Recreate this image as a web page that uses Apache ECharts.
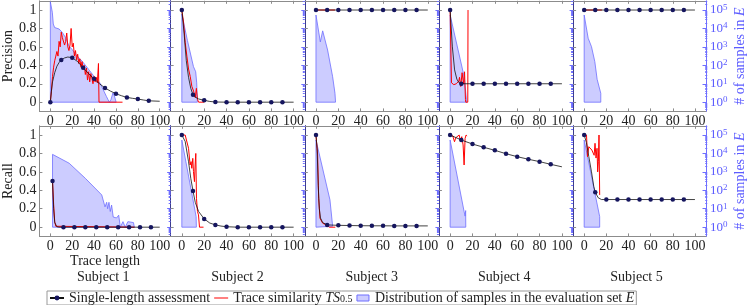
<!DOCTYPE html>
<html><head><meta charset="utf-8">
<script src="https://cdn.jsdelivr.net/npm/echarts@6/dist/echarts.min.js"></script>
<style>html,body{margin:0;padding:0;background:#fff}#c{width:748px;height:305px}</style>
</head><body><div id="c"></div>
<script>
const subjects = ['Subject 1','Subject 2','Subject 3','Subject 4','Subject 5'];
const metrics = ['Precision','Recall'];
const xTicks = [0,20,40,60,80,100];
const yTicks = [0,0.2,0.4,0.6,0.8,1];
const logTicks = [0,1,2,3,4,5];           // exponents: 10^0 ... 10^5
const marksStd = [0,10,20,30,40,50,60,70,80,90];
const marksR1 = [2,12,22,32,42,52,62,72,82,92];

// ---- Precision row: single-length assessment
const slP1 = [[0,0],[1,0.12],[2,0.22],[4,0.32],[6,0.39],[8,0.43],[10,0.457],[13,0.48],[16,0.49],[20,0.483],[25,0.44],[30,0.373],[35,0.31],[40,0.253],[45,0.2],[50,0.154],[55,0.12],[60,0.092],[65,0.07],[70,0.052],[75,0.042],[80,0.034],[85,0.024],[90,0.015],[100,0.01]];
const slP2 = [[0,1],[2,0.75],[4,0.45],[6,0.27],[8,0.15],[10,0.081],[12,0.055],[15,0.035],[20,0.02],[25,0.008],[30,0.002],[40,0],[50,0],[60,0],[70,0],[80,0],[90,0],[100,0]];
const slP3 = [[0,1],[10,1],[20,1],[30,1],[40,1],[50,1],[60,1],[70,1],[80,1],[90,1],[100,1]];
const slP4 = [[0,1],[2,0.6],[4,0.35],[6,0.25],[8,0.21],[10,0.2],[20,0.2],[30,0.2],[40,0.2],[50,0.2],[60,0.2],[70,0.2],[80,0.2],[90,0.2],[100,0.2]];
const slP5 = [[0,1],[10,1],[20,1],[30,1],[40,1],[50,1],[60,1],[70,1],[80,1],[90,1],[100,1]];
// ---- Precision row: trace similarity TS0.5
const tsP1 = [[0,0],[1,0.12],[2,0.28],[3,0.38],[4,0.45],[5,0.5],[6,0.55],[7,0.5],[8,0.66],[9,0.6],[10,0.76],[11,0.7],[12,0.72],[13,0.62],[14,0.66],[15,0.75],[16,0.6],[17,0.56],[18,0.62],[19,0.8],[20,0.6],[21,0.64],[22,0.5],[23,0.56],[24,0.46],[25,0.52],[26,0.42],[27,0.47],[28,0.38],[29,0.44],[30,0.36],[31,0.4],[32,0.3],[33,0.37],[34,0.24],[35,0.33],[36,0.22],[37,0.31],[38,0.26],[39,0.2],[40,0.28],[41,0.22],[42,0.27],[43,0.21],[44,0.42],[44.5,0],[66,0]];
const tsP2 = [[0,1],[1.5,0.87],[3,0.65],[4.5,0.5],[6,0.36],[7.5,0.28],[9,0.17],[10.5,0.12],[12,0.05],[13,0.15],[14,0.03],[15,0],[20,0]];
const tsP3 = [[0,1],[17,1]];
const tsP4 = [[0,1],[1.2,0.21],[3.3,0.19],[5.5,0.2],[7.8,0.23],[8.4,0.27],[9.5,0.17],[10.7,0.32],[12,0.2],[12.9,0.33],[13.7,0.03],[14,0],[15.8,0],[16,1]];
const tsP5 = [[0,1],[16,1]];
// ---- Precision row: distribution of samples (log10 of count)
const distP1 = [[0,0],[0,5.45],[1.8,4.88],[2.7,4.24],[3.9,4.05],[8,3.97],[11,3.78],[14,3.5],[17,3.05],[20,2.85],[23,2.6],[29,2.23],[35,1.78],[41,1.32],[45.3,1.05],[48.3,0.68],[51.3,0.31],[52.8,0.13],[54,0],[55.5,0.15],[57.2,0.5],[58.5,0.35],[60.2,0],[0,0]];
const distP2 = [[0,0],[0,4.78],[5,3.35],[10.4,1.93],[12.4,1.65],[13.3,1.05],[13.9,0],[0,0]];
const distP3 = [[0,0],[0,4.73],[3.9,3.27],[6,3.87],[10.4,2.83],[14.9,1.38],[17,0.48],[17.5,0],[0,0]];
const distP4 = [[0,0],[0,4.73],[12.5,1.4],[14.6,0.15],[15,0],[0,0]];
const distP5 = [[0,0],[0,4.73],[3.6,3.47],[6.6,3.01],[9.6,2.2],[11.7,1.24],[13.5,1.2],[15,0.48],[15,0],[0,0]];

// ---- Recall row: single-length assessment
const slR1 = [[2,0.5],[3,0.2],[4,0.05],[6,0.005],[8,0],[12,0],[22,0],[32,0],[42,0],[52,0],[62,0],[72,0],[82,0],[92,0],[100,0]];
const slR2 = [[0,1],[3,0.93],[6,0.71],[8,0.53],[10,0.393],[12,0.27],[15,0.17],[20,0.09],[25,0.045],[30,0.025],[35,0.012],[40,0.005],[50,0],[60,0],[70,0],[80,0],[90,0],[100,0]];
const slR3 = [[0,1],[1,0.85],[2,0.45],[3,0.2],[4,0.1],[6,0.05],[10,0.025],[20,0.02],[30,0.018],[40,0.016],[50,0.015],[60,0.015],[70,0.014],[80,0.014],[90,0.014],[100,0.014]];
const slR4 = [[0,1],[10,0.946],[20,0.902],[30,0.867],[40,0.834],[50,0.797],[60,0.765],[70,0.737],[80,0.711],[90,0.682],[100,0.655]];
const slR5 = [[0,1],[2,0.92],[4.2,0.765],[6.6,0.6],[8.7,0.44],[10,0.379],[12.6,0.32],[15.6,0.3],[20,0.3],[30,0.3],[40,0.3],[50,0.3],[60,0.3],[70,0.3],[80,0.3],[90,0.3],[100,0.3]];
// ---- Recall row: trace similarity
const tsR1 = [[2,0.5],[3,0.25],[4,0.06],[5,0.01],[6,0],[77,0]];
const tsR2 = [[0,1],[3,1],[6,0.856],[7.4,0.675],[8.3,0.711],[8.9,0.639],[9.8,0.747],[10.4,0.603],[11.3,0.494],[11.9,0.675],[12.5,0.8],[13.1,0.314],[14,0.17],[14.9,0.133],[15.8,0],[19.4,0]];
const tsR3 = [[0,1],[0.6,0.99],[1.5,0.783],[2.4,0.314],[3.6,0.097],[6,0.043],[7.5,0.054],[9,0.025],[10.4,0.025],[11.9,0],[17.3,0]];
const tsR4 = [[0,1],[2.4,0.99],[3.9,0.927],[5.1,0.971],[6.6,0.964],[8.1,1.0],[9.2,0.935],[10.4,0.982],[11.6,0.892],[12.5,0.675],[13.4,0.964],[14.3,1.0],[15.2,0.99]];
const tsR5 = [[0,1],[2.1,1],[3,0.765],[4.2,0.873],[5.7,0.856],[6.9,0.837],[8.1,0.82],[9,0.78],[9.8,0.91],[10.7,0.75],[11.6,0.856],[12.2,0.6],[12.8,0.71],[13.4,1.0],[14,0.35]];
// ---- Recall row: distribution (log10 of count)
const distR1 = [[2,0],[2,3.95],[3.7,4.0],[17.2,3.47],[32,2.65],[47,1.75],[48.5,1.65],[50,1.1],[51.5,1.35],[52.4,1.0],[53.6,1.35],[54.8,0.85],[56,1.2],[57.5,0.55],[59,0.65],[60.5,0.5],[62.5,0.65],[64,0],[66.4,0.3],[68.5,0],[70.9,0.3],[76,0.25],[76.8,0],[2,0]];
const distR2 = [[0,0],[0,4.73],[12.8,0.57],[13,0],[0,0]];
const distR3 = [[0,0],[0,4.73],[12.5,1.48],[14.9,0.05],[15,0],[0,0]];
const distR4 = [[0,0],[0,4.73],[12.5,0.85],[13.4,0.6],[13.9,0.9],[14,0],[0,0]];
const distR5 = [[0,0],[0,4.73],[14,0.57],[14,0],[0,0]];

const panels = [
  {sl:slP1, ts:tsP1, dist:distP1, marks:marksStd},
  {sl:slP2, ts:tsP2, dist:distP2, marks:marksStd},
  {sl:slP3, ts:tsP3, dist:distP3, marks:marksStd},
  {sl:slP4, ts:tsP4, dist:distP4, marks:marksStd},
  {sl:slP5, ts:tsP5, dist:distP5, marks:marksStd},
  {sl:slR1, ts:tsR1, dist:distR1, marks:marksR1},
  {sl:slR2, ts:tsR2, dist:distR2, marks:marksStd},
  {sl:slR3, ts:tsR3, dist:distR3, marks:marksStd},
  {sl:slR4, ts:tsR4, dist:distR4, marks:marksStd},
  {sl:slR5, ts:tsR5, dist:distR5, marks:marksStd}
];

const SL = 'Single-length assessment';
const TS = 'Trace similarity TS0.5';
const DI = 'Distribution of samples in the evaluation set E';

const FONT = 'Liberation Serif';
const GRAY = '#8c8c8c', NAVY = '#3c3c8c', BLUE = '#6e6eff', LBLUE = '#5c5cff', TXT = '#222';
const lefts = [36.5, 170.65, 304.8, 438.95, 573.1];
const W = 134.15, H = 110.6, tops = [0.8, 125.8];
const subjX = [103.3, 237.5, 371.7, 504.2, 636.5];

const minorTicks = [];
for (let n = -1; n <= 5; n++) for (let k = 2; k <= 9; k++) {
  const v = n + Math.log10(k);
  if (v > -0.5 && v < 5.5) minorTicks.push(v);
}

const grids = [], xAxes = [], yAxes = [], series = [];
for (let r = 0; r < 2; r++) for (let c = 0; c < 5; c++) {
  const idx = r * 5 + c;
  const p = panels[idx];
  grids.push({left: lefts[c], top: tops[r], width: W, height: H, show: false});
  xAxes.push({gridIndex: idx, type: 'value', min: -10, max: 110, position: 'bottom',
    axisLine: {show: true, onZero: false, lineStyle: {color: GRAY, width: 1}},
    axisTick: {show: true, inside: true, length: 3, customValues: xTicks, lineStyle: {color: GRAY}},
    axisLabel: {show: true, customValues: xTicks, margin: 3, fontFamily: FONT, fontSize: 14, color: TXT},
    splitLine: {show: false},
    name: (r === 1 && c === 0) ? 'Trace length' : '', nameLocation: 'middle', nameGap: 13,
    nameTextStyle: {fontFamily: FONT, fontSize: 14, color: TXT, lineHeight: 14}});
  xAxes.push({gridIndex: idx, type: 'value', min: -10, max: 110, position: 'top',
    axisLine: {show: true, onZero: false, lineStyle: {color: GRAY, width: 1}},
    axisTick: {show: true, inside: true, length: 3, customValues: xTicks, lineStyle: {color: GRAY}},
    axisLabel: {show: false}, splitLine: {show: false}});
  yAxes.push({gridIndex: idx, type: 'value', min: -0.1, max: 1.1, position: 'left',
    axisLine: {show: true, onZero: false, lineStyle: {color: c === 0 ? GRAY : NAVY, width: 1}},
    axisTick: {show: true, inside: true, length: 3, customValues: yTicks, lineStyle: {color: GRAY}},
    axisLabel: {show: c === 0, customValues: yTicks, margin: 3, fontFamily: FONT, fontSize: 14, color: TXT},
    splitLine: {show: false},
    name: c === 0 ? metrics[r] : '', nameLocation: 'middle', nameRotate: 90, nameGap: 22,
    nameTextStyle: {fontFamily: FONT, fontSize: 14, color: TXT, lineHeight: 14}});
  yAxes.push({gridIndex: idx, type: 'value', min: -0.5, max: 5.5, position: 'right',
    axisLine: {show: true, onZero: false, lineStyle: {color: c === 4 ? BLUE : NAVY, width: 1}},
    axisTick: {show: true, inside: true, length: 3.5, customValues: logTicks, lineStyle: {color: BLUE}},
    axisLabel: {show: c === 4, customValues: logTicks, margin: 4,
      formatter: v => '{b|10}{s|' + v + '}',
      rich: {b: {fontFamily: FONT, fontSize: 13, color: LBLUE, lineHeight: 14, verticalAlign: 'middle'},
             s: {fontFamily: FONT, fontSize: 9, color: LBLUE, lineHeight: 6, verticalAlign: 'top'}}},
    splitLine: {show: false},
    name: c === 4 ? '# of samples in {i|E}' : '', nameLocation: 'middle', nameRotate: 90, nameGap: 27,
    nameTextStyle: {fontFamily: FONT, fontSize: 14, color: LBLUE, lineHeight: 14,
      rich: {i: {fontFamily: FONT, fontSize: 14, color: LBLUE, fontStyle: 'italic', lineHeight: 14}}}});

  series.push({type: 'line', name: DI, xAxisIndex: 2 * idx, yAxisIndex: 2 * idx + 1,
    data: p.dist, symbol: 'none', silent: true,
    lineStyle: {color: BLUE, width: 0.8}, itemStyle: {color: '#ccccff'},
    areaStyle: {color: '#ccccff', opacity: 1}, z: 1});
  series.push({type: 'line', name: TS, xAxisIndex: 2 * idx, yAxisIndex: 2 * idx,
    data: p.ts, symbol: 'none', silent: true,
    lineStyle: {color: '#ff0000', width: 1}, itemStyle: {color: '#ff0000'}, z: 2});
  series.push({type: 'line', name: SL, xAxisIndex: 2 * idx, yAxisIndex: 2 * idx,
    data: p.sl.map(pt => p.marks.includes(pt[0]) ? {value: pt} : {value: pt, symbol: 'none'}),
    symbol: 'circle', symbolSize: 4.5, silent: true,
    lineStyle: {color: '#111', width: 0.8}, itemStyle: {color: '#15155e'}, z: 3});
}
// overlay grids that carry only the logarithmic minor ticks of the right axis
for (let r = 0; r < 2; r++) for (let c = 0; c < 5; c++) {
  const g = grids.length;
  grids.push({left: lefts[c], top: tops[r], width: W, height: H, show: false});
  xAxes.push({gridIndex: g, type: 'value', min: -10, max: 110, show: false});
  yAxes.push({gridIndex: g, type: 'value', min: -0.5, max: 5.5, position: 'right',
    axisLine: {show: false, onZero: false},
    axisTick: {show: true, inside: true, length: 2, customValues: minorTicks, lineStyle: {color: BLUE}},
    axisLabel: {show: false}, splitLine: {show: false}});
}

const chart = echarts.init(document.getElementById('c'), null, {renderer: 'canvas'});
chart.setOption({
  animation: false,
  backgroundColor: '#fff',
  grid: grids, xAxis: xAxes, yAxis: yAxes, series: series,
  title: subjects.map((s, i) => ({text: s, left: subjX[i], top: 270, textAlign: 'center', padding: 0,
    textStyle: {fontFamily: FONT, fontSize: 14, fontWeight: 'normal', color: TXT, lineHeight: 14}})),
  legend: {left: 47, top: 291, orient: 'horizontal', padding: [0, 2, 0, 2], itemGap: 4,
    itemWidth: 14, itemHeight: 6, borderColor: '#999', borderWidth: 1, selectedMode: false,
    data: [
      {name: SL},
      {name: TS, icon: 'path://M0,0 H14 V1 H0 Z', itemStyle: {color: '#ff0000', borderWidth: 0}},
      {name: DI, icon: 'path://M0,0 H10 V5 H0 Z', itemStyle: {color: '#ccccff', borderColor: BLUE, borderWidth: 1}}
    ],
    formatter: name => {
      if (name === TS) return '{t|Trace similarity }{it|TS}{sub|0.5}';
      if (name === DI) return '{t|Distribution of samples in the evaluation set }{it|E}';
      return '{t|' + name + '}';
    },
    textStyle: {fontFamily: FONT, fontSize: 14, color: TXT, lineHeight: 13,
      rich: {t: {fontFamily: FONT, fontSize: 14, color: TXT, lineHeight: 13},
             it: {fontFamily: FONT, fontSize: 14, color: TXT, fontStyle: 'italic', lineHeight: 13},
             sub: {fontFamily: FONT, fontSize: 10, color: TXT, lineHeight: 6, verticalAlign: 'bottom'}}}
  }
});
</script></body></html>
